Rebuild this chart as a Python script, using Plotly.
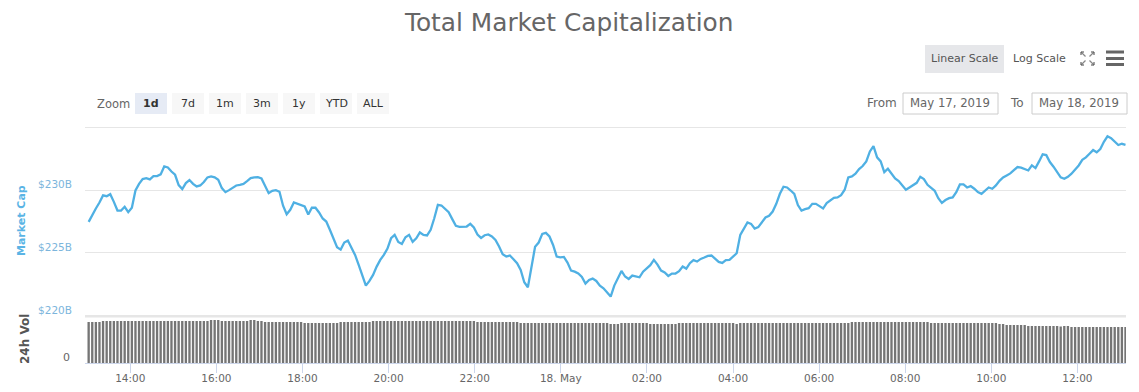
import pandas as pd
import plotly.graph_objects as go

W, H = 1139, 392
title_text = "Total Market Capitalization"
first_time = "2019-05-17 13:02"
last_time = "2019-05-18 13:07"
x_range = ["2019-05-17 12:56:54", "2019-05-18 13:07:42"]

market_cap = [
227.47,228.03,228.53,229.01,229.57,229.51,229.67,229.06,228.37,228.37,228.67,228.24,228.59,229.96,230.49,230.87,230.94,230.84,231.10,231.10,
231.24,231.87,231.79,231.47,231.21,230.39,230.07,230.55,230.79,230.49,230.28,230.36,230.63,231.00,231.08,231.00,230.81,230.15,229.83,229.99,
230.18,230.36,230.41,230.49,230.71,230.94,231.00,231.02,230.92,230.28,229.75,229.94,229.99,229.86,228.75,228.08,228.43,229.01,228.90,228.85,
228.69,228.06,228.59,228.59,228.22,227.74,227.50,226.84,226.10,225.46,225.27,225.83,225.99,225.46,224.85,224.05,223.21,222.41,222.78,223.26,
223.92,
224.45,224.85,225.35,226.17,226.44,225.88,225.72,226.25,226.44,225.88,226.17,226.63,226.44,226.39,226.84,227.76,228.82,228.77,228.48,228.24,
227.69,227.16,227.08,227.08,227.10,227.31,227.02,226.47,226.20,226.41,226.47,226.31,226.04,225.51,224.90,224.72,224.80,224.51,224.19,223.66,
222.68,222.28,223.92,225.49,225.83,226.52,226.60,226.31,225.64,224.72,224.66,224.69,224.24,223.60,223.52,223.37,223.10,222.57,222.86,222.97,
222.78,222.41,222.20,221.86,221.54,222.41,223.07,223.58,223.13,222.94,223.21,223.13,223.07,223.52,223.79,224.03,224.45,224.08,223.60,223.45,
223.18,223.37,223.37,223.55,223.92,223.76,224.19,224.43,224.32,224.53,224.64,224.77,224.80,224.56,224.29,224.21,224.43,224.45,224.69,224.98,
226.44,226.97,227.42,227.31,226.94,227.05,
227.42,227.82,227.95,228.29,228.90,229.70,230.26,230.20,229.96,229.70,228.80,228.37,228.48,228.56,228.90,228.90,228.72,228.53,228.96,229.20,
229.38,229.41,229.59,230.02,231.00,231.08,231.29,231.66,231.90,232.27,233.06,233.49,232.59,232.27,231.42,231.69,231.29,230.92,230.71,230.34,
230.02,230.20,230.39,230.57,231.05,230.87,230.41,230.15,229.94,229.35,228.98,229.20,229.35,229.41,229.83,230.44,230.44,230.20,230.31,230.10,
229.83,229.70,229.96,230.20,230.10,230.36,230.73,231.00,231.16,231.32,231.58,231.82,231.77,231.69,231.55,231.95,231.74,232.27,232.83,232.77,
232.22,231.85,231.47,231.00,230.89,231.05,231.29,231.63,231.95,232.40,232.59,232.88,233.17,232.99,233.25,233.83,234.26,234.12,233.83,233.57,
233.67,233.59,
]

volume_24h = [
86.8,86.8,86.8,86.8,88.9,88.9,88.9,88.9,88.9,88.9,88.9,88.9,88.9,88.9,88.9,88.9,88.9,88.9,88.9,88.9,
88.9,88.9,88.9,88.9,88.9,88.9,88.9,88.9,88.9,88.9,88.9,88.9,88.9,88.9,91.0,91.0,91.0,88.9,88.9,88.9,
88.9,88.9,88.9,88.9,88.9,91.0,91.0,88.9,88.9,86.8,86.8,86.8,86.8,86.8,86.8,86.8,86.8,86.8,86.8,86.8,
84.7,84.7,84.7,84.7,84.7,84.7,84.7,84.7,84.7,84.7,86.8,86.8,86.8,86.8,86.8,86.8,86.8,86.8,86.8,88.9,
88.9,
88.9,88.9,88.9,88.9,88.9,88.9,88.9,88.9,88.9,88.9,88.9,88.9,88.9,88.9,88.9,88.9,88.9,88.9,88.9,88.9,
88.9,88.9,88.9,88.9,88.9,88.9,88.9,86.8,86.8,86.8,86.8,86.8,86.8,86.8,86.8,86.8,86.8,86.8,86.8,84.7,
84.7,84.7,84.7,84.7,84.7,84.7,84.7,84.7,84.7,84.7,84.7,84.7,84.7,84.7,84.7,84.7,84.7,84.7,84.7,84.7,
84.7,84.7,84.7,84.7,82.6,82.6,82.6,84.7,84.7,84.7,84.7,84.7,84.7,84.7,84.7,82.6,82.6,82.6,82.6,82.6,
82.6,82.6,82.6,84.7,84.7,84.7,84.7,84.7,84.7,84.7,84.7,84.7,84.7,84.7,84.7,84.7,84.7,84.7,84.7,82.6,
84.7,84.7,84.7,84.7,84.7,84.7,
84.7,84.7,84.7,84.7,84.7,84.7,84.7,84.7,84.7,84.7,84.7,84.7,84.7,84.7,84.7,84.7,84.7,84.7,84.7,84.7,
84.7,84.7,84.7,84.7,84.7,86.8,86.8,86.8,86.8,86.8,86.8,86.8,86.8,86.8,86.8,86.8,86.8,86.8,86.8,86.8,
86.8,86.8,86.8,86.8,86.8,86.8,86.8,84.7,84.7,84.7,84.7,84.7,84.7,84.7,84.7,84.7,84.7,84.7,84.7,84.7,
84.7,84.7,84.7,84.7,84.7,84.7,82.6,82.6,80.5,80.5,80.5,80.5,80.5,80.5,78.4,78.4,78.4,78.4,78.4,78.4,
78.4,78.4,78.4,77.0,78.4,78.4,76.3,76.3,76.3,76.3,76.3,76.3,76.3,76.3,76.3,76.3,76.3,76.3,76.3,76.3,
76.3,76.3,
]

y_ticks = [220, 225, 230, 235]
y_tick_labels = ["$220B", "$225B", "$230B", ""]
y_range = [219.84, 235.16]
x_ticks = ["2019-05-17 14:00","2019-05-17 16:00","2019-05-17 18:00","2019-05-17 20:00","2019-05-17 22:00",
           "2019-05-18 00:00","2019-05-18 02:00","2019-05-18 04:00","2019-05-18 06:00","2019-05-18 08:00",
           "2019-05-18 10:00","2019-05-18 12:00"]
x_tick_labels = ["14:00","16:00","18:00","20:00","22:00","18. May","02:00","04:00","06:00","08:00","10:00","12:00"]
zoom_buttons = ["1d","7d","1m","3m","1y","YTD","ALL"]

FONT = "DejaVu Sans"
def px(x): return x / W
def py(y): return 1 - y / H

t_line = pd.date_range(first_time, last_time, periods=len(market_cap))
t_bar = pd.date_range(first_time, last_time, periods=len(volume_24h))

fig = go.Figure()
fig.add_trace(go.Scatter(x=t_line, y=market_cap, mode="lines", xaxis="x", yaxis="y",
                         line=dict(color="#4fb0e3", width=2.3), hoverinfo="skip", showlegend=False))
fig.add_trace(go.Bar(x=t_bar, y=volume_24h, xaxis="x2", yaxis="y2", marker=dict(color="#757575", line_width=0),
                     hoverinfo="skip", showlegend=False))

shapes, ann = [], []
def label(x, y, text, size=11, color="#666666", anchor="center", bold=False, angle=0):
    ann.append(dict(x=px(x), y=py(y), xref="paper", yref="paper", text=f"<b>{text}</b>" if bold else text,
                    showarrow=False, xanchor=anchor, yanchor="middle", textangle=angle,
                    font=dict(family=FONT, size=size, color=color)))
def box(x0, y0, x1, y1, fill, line=None):
    shapes.append(dict(type="rect", xref="paper", yref="paper", x0=px(x0), x1=px(x1), y0=py(y0), y1=py(y1),
                       fillcolor=fill, line=dict(color=line or fill, width=1 if line else 0), layer="below"))
def seg(x0, y0, x1, y1, color="#666666", width=1.0):
    shapes.append(dict(type="line", xref="paper", yref="paper", x0=px(x0), x1=px(x1), y0=py(y0), y1=py(y1),
                       line=dict(color=color, width=width)))

label(568, 22, title_text, size=24.8, color="#666666")
label(21, 221, "Market Cap", size=11, color="#5ab4e5", bold=True, angle=-90)
label(25, 339, "24h Vol", size=12, color="#555555", bold=True, angle=-90)
label(66, 357, "0", size=11, color="#666666")

# separator between the two panes
seg(85, 316.5, 1126, 316.5, "#e6e6e6", 2)

# scale buttons
box(925, 45, 1004, 73, "#e6e7ea")
label(965, 58, "Linear Scale", size=11, color="#555555")
label(1039, 58, "Log Scale", size=11, color="#555555")
# fullscreen icon
for (cx, cy, dx, dy) in [(1081, 52, 1, 1), (1094, 52, -1, 1), (1081, 65, 1, -1), (1094, 65, -1, -1)]:
    seg(cx, cy, cx + 4.5 * dx, cy + 4.5 * dy, "#888888", 1.2)
    seg(cx, cy, cx + 3 * dx, cy, "#666666", 1.2)
    seg(cx, cy, cx, cy + 3 * dy, "#666666", 1.2)
# menu icon
for y in (52, 58.5, 64.5):
    seg(1106, y, 1124, y, "#666666", 3)

# range selector
label(113.5, 104, "Zoom", size=11.5, color="#666666")
btn_x = [135, 172, 209, 246, 283, 320, 357]
for i, (b, x0) in enumerate(zip(zoom_buttons, btn_x)):
    box(x0, 93, x0 + 32, 114, "#e6ebf5" if i == 0 else "#f7f7f7")
    label(x0 + 16, 103, b, size=11, color="#333333", bold=(i == 0))
label(881.5, 103, "From", size=12, color="#666666")
label(1016.5, 103, "To", size=12, color="#666666")
box(903, 93, 998, 114, "#ffffff", "#cccccc")
box(1032, 93, 1127, 114, "#ffffff", "#cccccc")
label(950, 103, "May 17, 2019", size=11.7, color="#666666")
label(1079, 103, "May 18, 2019", size=11.7, color="#666666")

fig.update_layout(
    width=W, height=H, margin=dict(l=0, r=0, t=0, b=0, autoexpand=False), autosize=False,
    paper_bgcolor="#ffffff", plot_bgcolor="#ffffff", showlegend=False, bargap=0.35,
    font=dict(family=FONT, size=11, color="#666666"),
    shapes=shapes, annotations=ann,
    xaxis=dict(domain=[px(85), px(1126)], range=x_range, type="date", anchor="y", showticklabels=False,
               showgrid=False, ticks="", showline=False, zeroline=False, automargin=False),
    yaxis=dict(domain=[py(318), py(125)], range=y_range, anchor="x", tickmode="array", tickvals=y_ticks,
               ticktext=y_tick_labels, showgrid=True, gridcolor="#e6e6e6", gridwidth=1, zeroline=False,
               ticks="", showline=False, ticklabelstandoff=12, ticklabelshift=-6, automargin=False,
               tickfont=dict(family=FONT, size=10.5, color="#7cb5dc")),
    xaxis2=dict(domain=[px(85), px(1126)], range=x_range, type="date", anchor="y2", tickmode="array",
                tickvals=x_ticks, ticktext=x_tick_labels, showgrid=False, zeroline=False, showline=True,
                linecolor="#ccd6eb", linewidth=1, ticks="outside", ticklen=9, tickcolor="#ccd6eb", tickwidth=1,
                ticklabelstandoff=-4, automargin=False, tickfont=dict(family=FONT, size=10.5, color="#666666")),
    yaxis2=dict(domain=[py(363.3), py(318)], range=[0, 95], anchor="x2", showgrid=False, zeroline=False,
                showticklabels=False, ticks="", showline=False, automargin=False),
)

fig.write_html("out.html", config=dict(displayModeBar=False),
               post_script="document.body.style.margin='0';document.documentElement.style.overflow='hidden';")
